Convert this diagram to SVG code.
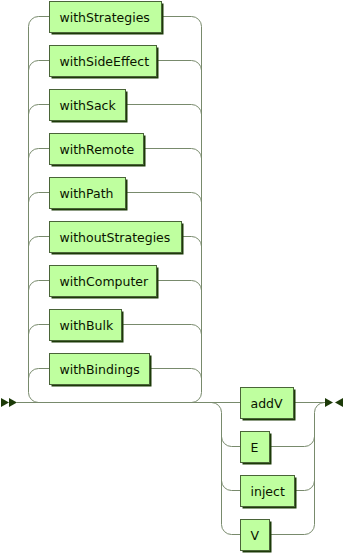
<svg xmlns="http://www.w3.org/2000/svg" width="344" height="554" viewBox="0 0 344 554">
  <style>
    .line { fill: none; stroke: #788a6c; stroke-width: 1; }
    .shadow { fill: #1c3a08; stroke: none; }
    .box { fill: #bfff9f; stroke: #4a6438; stroke-width: 1; }
    .arrow { fill: #1c3a08; stroke: none; }
    text { font-family: "DejaVu Sans", Verdana, sans-serif; font-size: 12.5px; fill: #0a1400; }
  </style>

  <!-- connectors -->
  <g id="connectors">
    <!-- start / end markers -->
    <polygon class="arrow" points="1 398 9 402.5 1 407"/>
    <polygon class="arrow" points="9 398 17 402.5 9 407"/>
    <polygon class="arrow" points="325 398 333 402.5 325 407"/>
    <polygon class="arrow" points="343 398 335 402.5 343 407"/>

    <!-- main line -->
    <path class="line" d="M17 402.5 H240.5"/>

    <!-- first choice: left rail and branches -->
    <path class="line" d="M28.5 26.5 V392.5 a10 10 0 0 0 10 10"/>
    <path class="line" d="M28.5 26.5 a10 10 0 0 1 10 -10 H49.5"/>
    <path class="line" d="M28.5 70.5 a10 10 0 0 1 10 -10 H49.5"/>
    <path class="line" d="M28.5 114.5 a10 10 0 0 1 10 -10 H49.5"/>
    <path class="line" d="M28.5 158.5 a10 10 0 0 1 10 -10 H49.5"/>
    <path class="line" d="M28.5 202.5 a10 10 0 0 1 10 -10 H49.5"/>
    <path class="line" d="M28.5 246.5 a10 10 0 0 1 10 -10 H49.5"/>
    <path class="line" d="M28.5 290.5 a10 10 0 0 1 10 -10 H49.5"/>
    <path class="line" d="M28.5 334.5 a10 10 0 0 1 10 -10 H49.5"/>
    <path class="line" d="M28.5 378.5 a10 10 0 0 1 10 -10 H49.5"/>

    <!-- first choice: right rail and branches -->
    <path class="line" d="M201.5 26.5 V392.5 a10 10 0 0 1 -10 10"/>
    <path class="line" d="M161.5 16.5 H191.5 a10 10 0 0 1 10 10"/>
    <path class="line" d="M156.5 60.5 H191.5 a10 10 0 0 1 10 10"/>
    <path class="line" d="M125.5 104.5 H191.5 a10 10 0 0 1 10 10"/>
    <path class="line" d="M143.5 148.5 H191.5 a10 10 0 0 1 10 10"/>
    <path class="line" d="M125.5 192.5 H191.5 a10 10 0 0 1 10 10"/>
    <path class="line" d="M181.5 236.5 H191.5 a10 10 0 0 1 10 10"/>
    <path class="line" d="M156.5 280.5 H191.5 a10 10 0 0 1 10 10"/>
    <path class="line" d="M121.5 324.5 H191.5 a10 10 0 0 1 10 10"/>
    <path class="line" d="M149.5 368.5 H191.5 a10 10 0 0 1 10 10"/>

    <!-- second choice: left rail and branches -->
    <path class="line" d="M211.5 402.5 a10 10 0 0 1 10 10 V524.5 a10 10 0 0 0 10 10 H240.5"/>
    <path class="line" d="M221.5 436.5 a10 10 0 0 0 10 10 H240.5"/>
    <path class="line" d="M221.5 480.5 a10 10 0 0 0 10 10 H240.5"/>

    <!-- second choice: right rail and branches -->
    <path class="line" d="M293.5 402.5 H325"/>
    <path class="line" d="M269.5 534.5 H304.5 a10 10 0 0 0 10 -10 V412.5 a10 10 0 0 1 10 -10"/>
    <path class="line" d="M269.5 446.5 H304.5 a10 10 0 0 0 10 -10"/>
    <path class="line" d="M294.5 490.5 H304.5 a10 10 0 0 0 10 -10"/>
  </g>

  <!-- first choice nodes -->
  <g id="withStrategies">
    <rect class="shadow" x="51.5" y="3.5" width="112" height="31"/>
    <rect class="box" x="49.5" y="1.5" width="112" height="31"/>
    <text x="59.5" y="21.5">withStrategies</text>
  </g>
  <g id="withSideEffect">
    <rect class="shadow" x="51.5" y="47.5" width="107" height="31"/>
    <rect class="box" x="49.5" y="45.5" width="107" height="31"/>
    <text x="59.5" y="65.5">withSideEffect</text>
  </g>
  <g id="withSack">
    <rect class="shadow" x="51.5" y="91.5" width="76" height="31"/>
    <rect class="box" x="49.5" y="89.5" width="76" height="31"/>
    <text x="59.5" y="109.5">withSack</text>
  </g>
  <g id="withRemote">
    <rect class="shadow" x="51.5" y="135.5" width="94" height="31"/>
    <rect class="box" x="49.5" y="133.5" width="94" height="31"/>
    <text x="59.5" y="153.5">withRemote</text>
  </g>
  <g id="withPath">
    <rect class="shadow" x="51.5" y="179.5" width="76" height="31"/>
    <rect class="box" x="49.5" y="177.5" width="76" height="31"/>
    <text x="59.5" y="197.5">withPath</text>
  </g>
  <g id="withoutStrategies">
    <rect class="shadow" x="51.5" y="223.5" width="132" height="31"/>
    <rect class="box" x="49.5" y="221.5" width="132" height="31"/>
    <text x="59.5" y="241.5">withoutStrategies</text>
  </g>
  <g id="withComputer">
    <rect class="shadow" x="51.5" y="267.5" width="107" height="31"/>
    <rect class="box" x="49.5" y="265.5" width="107" height="31"/>
    <text x="59.5" y="285.5">withComputer</text>
  </g>
  <g id="withBulk">
    <rect class="shadow" x="51.5" y="311.5" width="72" height="31"/>
    <rect class="box" x="49.5" y="309.5" width="72" height="31"/>
    <text x="59.5" y="329.5">withBulk</text>
  </g>
  <g id="withBindings">
    <rect class="shadow" x="51.5" y="355.5" width="100" height="31"/>
    <rect class="box" x="49.5" y="353.5" width="100" height="31"/>
    <text x="59.5" y="373.5">withBindings</text>
  </g>

  <!-- second choice nodes -->
  <g id="addV">
    <rect class="shadow" x="242.5" y="389.5" width="53" height="31"/>
    <rect class="box" x="240.5" y="387.5" width="53" height="31"/>
    <text x="250.5" y="407.5">addV</text>
  </g>
  <g id="E">
    <rect class="shadow" x="242.5" y="433.5" width="29" height="31"/>
    <rect class="box" x="240.5" y="431.5" width="29" height="31"/>
    <text x="250.5" y="451.5">E</text>
  </g>
  <g id="inject">
    <rect class="shadow" x="242.5" y="477.5" width="54" height="31"/>
    <rect class="box" x="240.5" y="475.5" width="54" height="31"/>
    <text x="250.5" y="495.5">inject</text>
  </g>
  <g id="V">
    <rect class="shadow" x="242.5" y="521.5" width="29" height="31"/>
    <rect class="box" x="240.5" y="519.5" width="29" height="31"/>
    <text x="250.5" y="539.5">V</text>
  </g>
</svg>
